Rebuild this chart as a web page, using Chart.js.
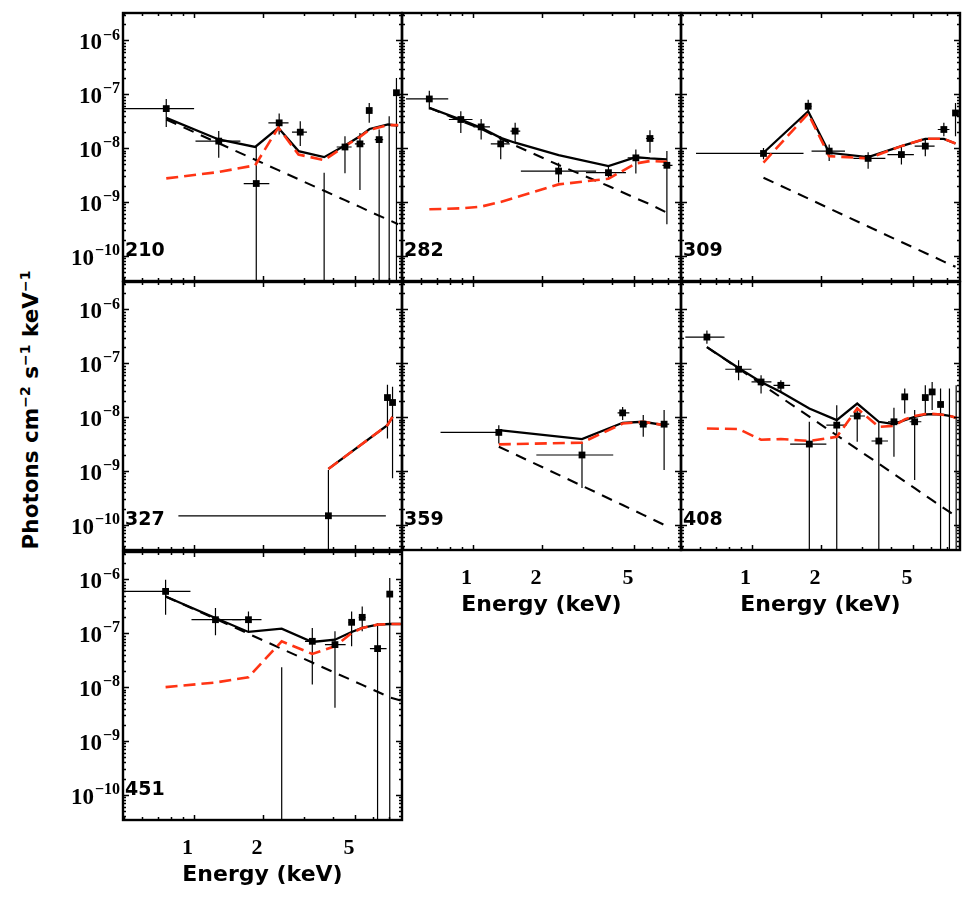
<!DOCTYPE html>
<html>
<head>
<meta charset="utf-8">
<script src="https://cdn.jsdelivr.net/npm/chart.js@4.4.0/dist/chart.umd.min.js"></script>
<style>
  html, body { margin: 0; padding: 0; background: #fff; }
  body { width: 980px; height: 898px; position: relative; overflow: hidden; }
  canvas { position: absolute; }
  .t { position: absolute; font-family: "DejaVu Sans", sans-serif; font-weight: bold; color: #000; white-space: nowrap; }
  .xt { width: 260px; text-align: center; font-size: 22px; line-height: 24px; }
  .pn { font-size: 19px; line-height: 22px; }
  .yt { font-size: 21.5px; line-height: 24px; transform-origin: center center; transform: rotate(-90deg); text-align: center; width: 360px; }
  .yt sup { font-size: 14px; vertical-align: 8px; line-height: 0; }
</style>
</head>
<body>
<script>
// ---------------- axes ----------------
const XMIN = 0.495, XMAX = 8.0;
const YMIN = 3.4e-11, YMAX = 3.24e-6;
const xTickValues = [1, 2, 5];
const xTickLabels = ['1', '2', '5'];
const xMinorTicks = [0.5, 0.6, 0.7, 0.8, 0.9, 3, 4, 6, 7, 8];
const yTickValues = [1e-10, 1e-9, 1e-8, 1e-7, 1e-6];
const yTickBase = '10';
const yTickExp = ['\u221210', '\u22129', '\u22128', '\u22127', '\u22126'];
const panelNames = ['210', '282', '309', '327', '359', '408', '451'];

// ---------------- 210 ----------------
const p210_E   = [0.762, 1.286, 1.87, 2.35, 2.9, 3.68, 4.53, 5.26, 5.77, 6.37, 7.04, 7.57];
const p210_Elo = [0.50, 1.02, 1.65, 2.11, 2.67, 3.68, 4.17, 5.0, 5.62, 6.1, 7.04, 7.45];
const p210_Ehi = [1.006, 1.596, 2.13, 2.58, 3.1, 3.68, 4.84, 5.53, 5.94, 6.63, 7.04, 7.7];
const p210_F   = [5.43e-8, 1.35e-8, 2.2e-9, 2.95e-8, 1.98e-8, 1e-12, 1.05e-8, 1.2e-8, 5.0e-8, 1.44e-8, 1e-12, 1.07e-7];
const p210_Fhi = [8.2e-8, 2.07e-8, 1.05e-8, 4.4e-8, 3.16e-8, 3.5e-9, 1.67e-8, 1.92e-8, 6.9e-8, 2.22e-8, 3.9e-8, 2.0e-7];
const p210_Flo = [2.48e-8, 6.6e-9, 1e-13, 1.79e-8, 1.09e-8, 1e-13, 3.4e-9, 1.66e-9, 2.95e-8, 1e-13, 1e-13, 1e-13];
const p210_mE   = [0.762, 1.286, 1.85, 2.33, 2.85, 3.68, 4.53, 5.26, 5.79, 6.96, 7.7];
const p210_mTot = [3.65e-8, 1.45e-8, 1.05e-8, 2.38e-8, 8.8e-9, 6.8e-9, 1.12e-8, 1.66e-8, 2.27e-8, 2.75e-8, 2.63e-8];
const p210_mPow = [3.4e-8, 1.23e-8, 6.1e-9, 3.9e-9, 2.64e-9, 1.61e-9, 1.08e-9, 8.1e-10, 6.65e-10, 4.7e-10, 3.86e-10];
const p210_mTh  = [2.74e-9, 3.6e-9, 4.8e-9, 2.4e-8, 7.6e-9, 6.0e-9, 1.09e-8, 1.62e-8, 2.2e-8, 2.67e-8, 2.67e-8];

// ---------------- 282 ----------------
const p282_E   = [0.65, 0.89, 1.09, 1.325, 1.53, 2.36, 3.88, 5.1, 5.87, 6.95];
const p282_Elo = [0.515, 0.79, 1.01, 1.2, 1.46, 1.62, 3.1, 4.7, 5.64, 6.65];
const p282_Ehi = [0.785, 1.0, 1.19, 1.45, 1.61, 3.43, 4.62, 5.54, 6.12, 7.35];
const p282_F   = [8.2e-8, 3.4e-8, 2.48e-8, 1.2e-8, 2.07e-8, 3.75e-9, 3.5e-9, 6.6e-9, 1.51e-8, 4.8e-9];
const p282_Fhi = [1.17e-7, 4.84e-8, 3.49e-8, 1.67e-8, 2.95e-8, 5.37e-9, 4.65e-9, 9.4e-9, 2.15e-8, 8.8e-9];
const p282_Flo = [5.2e-8, 1.92e-8, 1.45e-8, 6.2e-9, 1.26e-8, 2.29e-9, 2.63e-9, 3.39e-9, 8.2e-9, 3.85e-10];
const p282_mE   = [0.65, 0.89, 1.09, 1.325, 1.53, 2.36, 3.88, 5.1, 5.87, 6.95];
const p282_mTot = [5.6e-8, 3.4e-8, 2.38e-8, 1.55e-8, 1.26e-8, 7.4e-9, 4.65e-9, 6.8e-9, 6.45e-9, 6.2e-9];
const p282_mPow = [5.6e-8, 3.2e-8, 2.28e-8, 1.49e-8, 1.12e-8, 4.85e-9, 1.98e-9, 1.17e-9, 9.1e-10, 6.3e-10];
const p282_mTh  = [7.3e-10, 7.6e-10, 8.2e-10, 1.0e-9, 1.2e-9, 2.12e-9, 2.7e-9, 5.2e-9, 5.75e-9, 5.6e-9];

// ---------------- 309 ----------------
const p309_E   = [1.127, 1.76, 2.17, 3.2, 4.46, 5.66, 6.81, 7.65];
const p309_Elo = [0.575, 1.71, 1.82, 2.76, 3.88, 5.09, 6.41, 7.5];
const p309_Ehi = [1.68, 1.82, 2.54, 3.8, 5.05, 6.21, 7.2, 7.8];
const p309_F   = [7.96e-9, 6.0e-8, 8.8e-9, 6.45e-9, 7.6e-9, 1.09e-8, 2.22e-8, 4.5e-8];
const p309_Fhi = [1.01e-8, 7.96e-8, 1.17e-8, 8.4e-9, 1.09e-8, 1.55e-8, 2.95e-8, 6.9e-8];
const p309_Flo = [6.2e-9, 4.84e-8, 5.75e-9, 4.14e-9, 4.99e-9, 7.1e-9, 1.67e-8, 1.66e-8];
const p309_mE   = [1.127, 1.76, 2.17, 3.2, 4.46, 5.66, 6.81, 7.65];
const p309_mTot = [8.2e-9, 4.84e-8, 8.2e-9, 6.8e-9, 1.09e-8, 1.49e-8, 1.49e-8, 1.22e-8];
const p309_mPow = [2.82e-9, 1.16e-9, 7.6e-10, 3.5e-10, 1.8e-10, 1.13e-10, 7.8e-11, 6.25e-11];
const p309_mTh  = [5.4e-9, 4.4e-8, 7.1e-9, 6.45e-9, 1.09e-8, 1.49e-8, 1.49e-8, 1.22e-8];

// ---------------- 327 ----------------
const p327_E   = [3.84, 6.92, 7.28];
const p327_Elo = [0.86, 6.8, 7.15];
const p327_Ehi = [6.81, 7.05, 7.42];
const p327_F   = [1.47e-10, 2.31e-8, 1.87e-8];
const p327_Fhi = [1.04e-9, 4.0e-8, 3.65e-8];
const p327_Flo = [1e-13, 4.0e-9, 7.3e-10];
const p327_mE   = [3.84, 6.92, 7.28];
const p327_mTot = [1.09e-9, 7.1e-9, 1.01e-8];
const p327_mPow = [];
const p327_mTh  = [1.09e-9, 7.1e-9, 1.01e-8];

// ---------------- 359 ----------------
const p359_E   = [1.30, 2.98, 4.47, 5.49, 6.76];
const p359_Elo = [0.727, 1.89, 4.25, 5.27, 6.44];
const p359_Ehi = [1.30, 4.07, 4.78, 5.72, 7.11];
const p359_F   = [5.2e-9, 1.98e-9, 1.2e-8, 7.4e-9, 7.4e-9];
const p359_Fhi = [7.1e-9, 3.49e-9, 1.55e-8, 1.09e-8, 1.35e-8];
const p359_Flo = [3.25e-9, 4.8e-10, 8.8e-9, 4.3e-9, 1.04e-9];
const p359_mE   = [1.30, 2.98, 4.47, 5.49, 6.76];
const p359_mTot = [5.75e-9, 3.92e-9, 7.85e-9, 8.2e-9, 7.1e-9];
const p359_mPow = [2.82e-9, 5.3e-10, 2.33e-10, 1.53e-10, 1.0e-10];
const p359_mTh  = [3.12e-9, 3.35e-9, 7.6e-9, 8.2e-9, 7.1e-9];

// ---------------- 408 ----------------
const p408_E   = [0.641, 0.879, 1.10, 1.34, 1.78, 2.34, 2.87, 3.56, 4.14, 4.61, 5.09, 5.66, 6.06, 6.59, 7.2, 7.7];
const p408_Elo = [0.517, 0.77, 1.0, 1.245, 1.47, 2.11, 2.67, 3.31, 3.9, 4.5, 4.84, 5.55, 5.95, 6.45, 7.2, 7.7];
const p408_Ehi = [0.764, 1.0, 1.22, 1.47, 2.11, 2.58, 3.1, 3.9, 4.43, 4.72, 5.44, 5.77, 6.18, 6.74, 7.2, 7.7];
const p408_F   = [3.07e-7, 7.75e-8, 4.5e-8, 3.9e-8, 3.16e-9, 7.1e-9, 1.05e-8, 3.6e-9, 8.2e-9, 2.38e-8, 8.2e-9, 2.31e-8, 2.94e-8, 1.72e-8, 1e-12, 1e-12];
const p408_Fhi = [4.08e-7, 1.14e-7, 6.0e-8, 4.84e-8, 8.2e-9, 1.67e-8, 1.55e-8, 8.2e-9, 1.49e-8, 3.4e-8, 1.35e-8, 3.92e-8, 4.5e-8, 3.4e-8, 3.4e-8, 3.92e-8];
const p408_Flo = [2.31e-7, 4.84e-8, 2.74e-8, 2.95e-8, 1e-13, 1e-13, 3.49e-9, 1e-13, 1.84e-9, 1.17e-8, 6.8e-10, 1.17e-8, 1.35e-8, 1e-13, 1e-13, 1e-13];
const p408_mE   = [0.641, 0.879, 1.10, 1.34, 1.78, 2.34, 2.87, 3.56, 4.14, 4.61, 5.09, 5.66, 6.06, 6.59, 7.2, 7.7];
const p408_mTot = [2.0e-7, 8.2e-8, 4.5e-8, 2.94e-8, 1.45e-8, 8.8e-9, 1.79e-8, 8.2e-9, 7.4e-9, 8.8e-9, 1.01e-8, 1.12e-8, 1.14e-8, 1.12e-8, 1.06e-8, 9.7e-9];
const p408_mPow = [2.0e-7, 8.0e-8, 4.16e-8, 2.33e-8, 1.02e-8, 4.6e-9, 2.54e-9, 1.36e-9, 8.7e-10, 6.4e-10, 4.8e-10, 3.5e-10, 2.86e-10, 2.25e-10, 1.73e-10, 1.43e-10];
const p408_mTh  = [6.15e-9, 6.0e-9, 3.8e-9, 3.92e-9, 3.6e-9, 4.3e-9, 1.45e-8, 6.6e-9, 6.9e-9, 9.1e-9, 1.05e-8, 1.14e-8, 1.15e-8, 1.12e-8, 1.06e-8, 9.7e-9];

// ---------------- 451 ----------------
const p451_E   = [0.757, 1.245, 1.73, 2.41, 3.27, 4.1, 4.84, 5.38, 6.27, 7.08];
const p451_Elo = [0.5, 0.98, 1.47, 2.41, 3.04, 3.71, 4.7, 5.2, 5.81, 7.0];
const p451_Ehi = [0.97, 1.61, 1.97, 2.41, 3.53, 4.56, 4.98, 5.56, 6.86, 7.16];
const p451_F   = [6.0e-7, 1.79e-7, 1.79e-7, 1e-12, 7.1e-8, 6.17e-8, 1.6e-7, 1.98e-7, 5.2e-8, 5.35e-7];
const p451_Fhi = [9.86e-7, 2.94e-7, 2.55e-7, 2.34e-8, 1.26e-7, 1.09e-7, 2.55e-7, 3.16e-7, 1.55e-7, 1.06e-6];
const p451_Flo = [2.22e-7, 9.2e-8, 1.09e-7, 1e-13, 1.12e-8, 4.14e-9, 5.75e-8, 1.09e-7, 1e-13, 1e-13];
const p451_mE   = [0.757, 1.245, 1.73, 2.41, 3.27, 4.1, 4.84, 5.38, 6.27, 7.08, 7.9];
const p451_mTot = [4.84e-7, 1.92e-7, 1.06e-7, 1.22e-7, 6.9e-8, 7.6e-8, 1.06e-7, 1.26e-7, 1.45e-7, 1.49e-7, 1.49e-7];
const p451_mPow = [4.84e-7, 1.86e-7, 9.8e-8, 5.15e-8, 2.86e-8, 1.85e-8, 1.35e-8, 1.1e-8, 8.2e-9, 6.44e-9, 5.66e-9];
const p451_mTh  = [1.0e-8, 1.22e-8, 1.53e-8, 7.1e-8, 4.14e-8, 5.75e-8, 1.01e-7, 1.26e-7, 1.45e-7, 1.49e-7, 1.49e-7];

// ---------------- layout ----------------
const colLeft = [123, 402, 681];
const rowTop = [13, 282, 552];
const PW = 279, PH = 268;
const PAD_L = 72, PAD_T = 6, PAD_R = 6, PAD_B = 72;
const RED = '#ff3414';

const panels = [
  { name: panelNames[0], row: 0, col: 0, E: p210_E, Elo: p210_Elo, Ehi: p210_Ehi, F: p210_F, Flo: p210_Flo, Fhi: p210_Fhi, mE: p210_mE, mTot: p210_mTot, mPow: p210_mPow, mTh: p210_mTh, xl: false, yl: true },
  { name: panelNames[1], row: 0, col: 1, E: p282_E, Elo: p282_Elo, Ehi: p282_Ehi, F: p282_F, Flo: p282_Flo, Fhi: p282_Fhi, mE: p282_mE, mTot: p282_mTot, mPow: p282_mPow, mTh: p282_mTh, xl: false, yl: false },
  { name: panelNames[2], row: 0, col: 2, E: p309_E, Elo: p309_Elo, Ehi: p309_Ehi, F: p309_F, Flo: p309_Flo, Fhi: p309_Fhi, mE: p309_mE, mTot: p309_mTot, mPow: p309_mPow, mTh: p309_mTh, xl: false, yl: false },
  { name: panelNames[3], row: 1, col: 0, E: p327_E, Elo: p327_Elo, Ehi: p327_Ehi, F: p327_F, Flo: p327_Flo, Fhi: p327_Fhi, mE: p327_mE, mTot: p327_mTot, mPow: p327_mPow, mTh: p327_mTh, xl: false, yl: true },
  { name: panelNames[4], row: 1, col: 1, E: p359_E, Elo: p359_Elo, Ehi: p359_Ehi, F: p359_F, Flo: p359_Flo, Fhi: p359_Fhi, mE: p359_mE, mTot: p359_mTot, mPow: p359_mPow, mTh: p359_mTh, xl: true, yl: false },
  { name: panelNames[5], row: 1, col: 2, E: p408_E, Elo: p408_Elo, Ehi: p408_Ehi, F: p408_F, Flo: p408_Flo, Fhi: p408_Fhi, mE: p408_mE, mTot: p408_mTot, mPow: p408_mPow, mTh: p408_mTh, xl: true, yl: false },
  { name: panelNames[6], row: 2, col: 0, E: p451_E, Elo: p451_Elo, Ehi: p451_Ehi, F: p451_F, Flo: p451_Flo, Fhi: p451_Fhi, mE: p451_mE, mTot: p451_mTot, mPow: p451_mPow, mTh: p451_mTh, xl: true, yl: true }
];

// error bars drawn through the chart scales
const errPlugin = {
  id: 'errbars',
  beforeDatasetsDraw(chart) {
    const ds = chart.data.datasets.find(d => d.isData);
    if (!ds) return;
    const { ctx, chartArea: a, scales: { x, y } } = chart;
    ctx.save();
    ctx.beginPath(); ctx.rect(a.left, a.top, a.right - a.left, a.bottom - a.top); ctx.clip();
    ctx.strokeStyle = '#000'; ctx.lineWidth = 1.2;
    for (const p of ds.data) {
      const px = x.getPixelForValue(p.x), py = y.getPixelForValue(p.y);
      ctx.beginPath();
      ctx.moveTo(x.getPixelForValue(p.xMin), py); ctx.lineTo(x.getPixelForValue(p.xMax), py);
      ctx.moveTo(px, Math.max(y.getPixelForValue(p.yMax), -1e5)); ctx.lineTo(px, Math.min(y.getPixelForValue(p.yMin), 1e5));
      ctx.stroke();
    }
    ctx.restore();
  }
};

// frame, inward ticks on all four sides, and power-of-ten labels on the y scale
const framePlugin = {
  id: 'frame',
  afterDraw(chart, args, opts) {
    const { ctx, chartArea: a, scales: { x, y } } = chart;
    ctx.save();
    ctx.strokeStyle = '#000';
    ctx.lineWidth = 1.5;
    ctx.beginPath();
    const xt = xTickValues.map(v => [v, 5]).concat(xMinorTicks.map(v => [v, 3]));
    for (const [v, len] of xt) {
      if (v <= XMIN || v >= XMAX) continue;
      const px = Math.round(x.getPixelForValue(v)) + 0.5;
      ctx.moveTo(px, a.top); ctx.lineTo(px, a.top + len);
      ctx.moveTo(px, a.bottom); ctx.lineTo(px, a.bottom - len);
    }
    for (let d = -11; d <= -6; d++) {
      for (let m = 1; m <= 9; m++) {
        const v = m * Math.pow(10, d);
        if (v <= YMIN || v >= YMAX) continue;
        const len = m === 1 ? 6 : 3;
        const py = Math.round(y.getPixelForValue(v)) + 0.5;
        ctx.moveTo(a.left, py); ctx.lineTo(a.left + len, py);
        ctx.moveTo(a.right, py); ctx.lineTo(a.right - len, py);
      }
    }
    ctx.stroke();
    ctx.lineWidth = 2.4;
    ctx.strokeRect(a.left, a.top, a.right - a.left, a.bottom - a.top);

    if (opts.yLabels) {
      ctx.fillStyle = '#000';
      ctx.textBaseline = 'middle';
      ctx.textAlign = 'left';
      yTickValues.forEach((v, i) => {
        const py = y.getPixelForValue(v) + 3;
        ctx.font = 'bold 16px "Liberation Serif"';
        const ew = ctx.measureText(yTickExp[i]).width;
        ctx.font = 'bold 23px "Liberation Serif"';
        const bw = ctx.measureText(yTickBase).width;
        const right = a.left - 3;
        ctx.fillText(yTickBase, right - ew - bw - 1, py);
        ctx.font = 'bold 16px "Liberation Serif"';
        ctx.fillText(yTickExp[i], right - ew, py - 8);
      });
    }
    ctx.restore();
  }
};

function addText(cls, html, left, top) {
  const d = document.createElement('div');
  d.className = 't ' + cls;
  d.innerHTML = html;
  d.style.left = left + 'px';
  d.style.top = top + 'px';
  document.body.appendChild(d);
  return d;
}

function zeroPad(s) { s.paddingTop = 0; s.paddingBottom = 0; s.paddingLeft = 0; s.paddingRight = 0; }

function makePanel(p) {
  const L = colLeft[p.col], T = rowTop[p.row];
  const cv = document.createElement('canvas');
  cv.width = PW + PAD_L + PAD_R;
  cv.height = PH + PAD_T + PAD_B;
  cv.style.left = (L - PAD_L) + 'px';
  cv.style.top = (T - PAD_T) + 'px';
  document.body.appendChild(cv);

  const pts = p.E.map((e, i) => ({ x: e, y: p.F[i], xMin: p.Elo[i], xMax: p.Ehi[i], yMin: p.Flo[i], yMax: p.Fhi[i] }));
  const line = (ys) => p.mE.slice(0, ys.length).map((e, i) => ({ x: e, y: ys[i] }));

  new Chart(cv, {
    type: 'scatter',
    data: {
      datasets: [
        { label: 'data', isData: true, data: pts, pointStyle: 'rect', pointRadius: 4.8, backgroundColor: '#000', borderColor: '#000', borderWidth: 0, showLine: false, order: 0 },
        { label: 'thermal', data: line(p.mTh), showLine: true, borderColor: RED, borderWidth: 2.6, borderDash: [12, 6], pointRadius: 0, order: 1 },
        { label: 'power law', data: line(p.mPow), showLine: true, borderColor: '#000', borderWidth: 2.1, borderDash: [11, 8], pointRadius: 0, order: 2 },
        { label: 'total', data: line(p.mTot), showLine: true, borderColor: '#000', borderWidth: 2.3, pointRadius: 0, order: 3 }
      ]
    },
    options: {
      responsive: false, animation: false, devicePixelRatio: 1,
      layout: { padding: { left: 0, top: PAD_T, right: PAD_R, bottom: 0 } },
      plugins: { legend: { display: false }, tooltip: { enabled: false }, frame: { yLabels: p.yl } },
      scales: {
        x: {
          type: 'logarithmic', min: XMIN, max: XMAX,
          grid: { display: false, drawTicks: false }, border: { display: false },
          afterBuildTicks: s => { s.ticks = xTickValues.map(v => ({ value: v })); },
          afterFit: s => { s.height = PAD_B; zeroPad(s); },
          ticks: {
            display: p.xl, autoSkip: false, maxRotation: 0, padding: 15, labelOffset: -6, color: '#000',
            font: { family: 'Liberation Serif', weight: 'bold', size: 22 },
            callback: (v) => { const i = xTickValues.indexOf(v); return i >= 0 ? xTickLabels[i] : ''; }
          }
        },
        y: {
          type: 'logarithmic', min: YMIN, max: YMAX,
          grid: { display: false, drawTicks: false }, border: { display: false },
          afterBuildTicks: s => { s.ticks = yTickValues.map(v => ({ value: v })); },
          afterFit: s => { s.width = PAD_L; zeroPad(s); },
          ticks: { display: false }
        }
      }
    },
    plugins: [errPlugin, framePlugin]
  });

  addText('pn', p.name, L + 2, T + 236 - 11);
  if (p.xl) {
    addText('xt', 'Energy (keV)', L + PW / 2 - 130, T + PH + 54 - 12);
  }
}

panels.forEach(makePanel);

// y-axis title
addText('yt', 'Photons cm<sup>\u22122</sup> s<sup>\u22121</sup> keV<sup>\u22121</sup>', 31 - 180, 410 - 12);
</script>
</body>
</html>
